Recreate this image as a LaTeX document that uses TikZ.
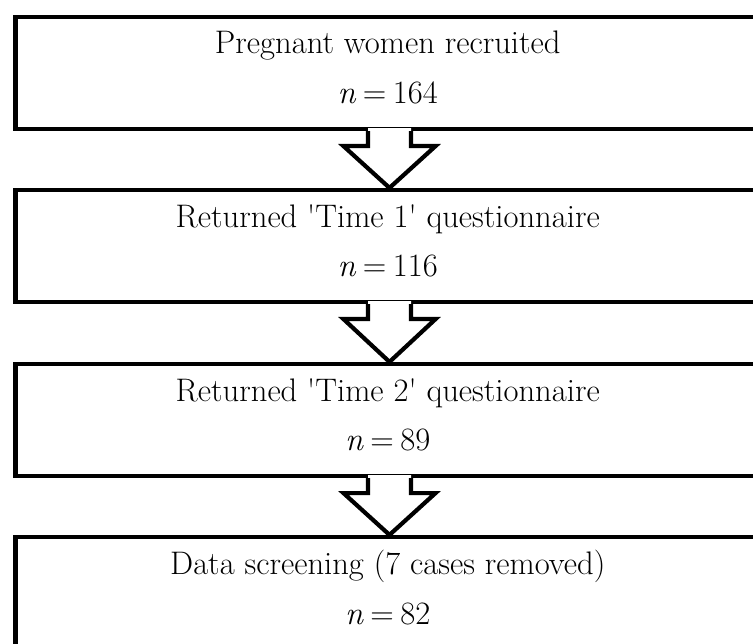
\documentclass[tikz,border=0pt]{standalone}
\usetikzlibrary{calc}
\newcommand{\nval}[1]{\textit{n}\hspace{0.2em}=\hspace{0.2em}#1}
\begin{document}
\begin{tikzpicture}[x=1pt,y=-1pt,
  box/.style={draw,line width=4.2pt,minimum width=744.5pt,minimum height=112pt,inner sep=0pt},
  lbl/.style={anchor=base,inner sep=0pt,font=\fontsize{32.6}{38}\selectfont},
  blockarrow/.style={draw,line width=4.2pt,miter limit=10,line join=miter}]
\useasboundingbox (0,0) rectangle (753,644);
\clip (0,0) rectangle (753,644);
\node[box] (b1) at (387.75,73) {};
\node[box] (b2) at (387.75,246) {};
\node[box] (b3) at (387.75,420) {};
\node[box] (b4) at (387.75,593) {};
\node[lbl] (t1) at ([yshift=-38.5pt]b1.north) {Pregnant women recruited};
\node[lbl] (n1) at ([yshift=-88.5pt]b1.north) {\nval{164}};
\node[lbl] (t2) at ([yshift=-39.5pt]b2.north) {Returned \textquotesingle Time 1\textquotesingle{} questionnaire};
\node[lbl] (n2) at ([yshift=-88.5pt]b2.north) {\nval{116}};
\node[lbl] (t3) at ([yshift=-39.5pt]b3.north) {Returned \textquotesingle Time 2\textquotesingle{} questionnaire};
\node[lbl] (n3) at ([yshift=-89pt]b3.north) {\nval{89}};
\node[lbl] (t4) at ([yshift=-40pt]b4.north) {Data screening (7 cases removed)};
\node[lbl] (n4) at ([yshift=-90pt]b4.north) {\nval{82}};
\foreach \u/\v in {b1/b2,b2/b3,b3/b4}{
  \coordinate (s) at ([xshift=1.75pt]\u.south);
  \coordinate (e) at ([xshift=1.75pt]\v.north);
  \fill[white] ([xshift=-21.5pt,yshift=3pt]s) -- ([xshift=-21.5pt,yshift=-15pt]s)
     -- ([xshift=-46pt,yshift=-15pt]s) -- (e) -- ([xshift=46pt,yshift=-15pt]s)
     -- ([xshift=21.5pt,yshift=-15pt]s) -- ([xshift=21.5pt,yshift=3pt]s) -- cycle;
  \draw[blockarrow] ([xshift=-21.5pt]s) -- ([xshift=-21.5pt,yshift=-15pt]s)
     -- ([xshift=-46pt,yshift=-15pt]s) -- (e) -- ([xshift=46pt,yshift=-15pt]s)
     -- ([xshift=21.5pt,yshift=-15pt]s) -- ([xshift=21.5pt]s);
}
\end{tikzpicture}
\end{document}
